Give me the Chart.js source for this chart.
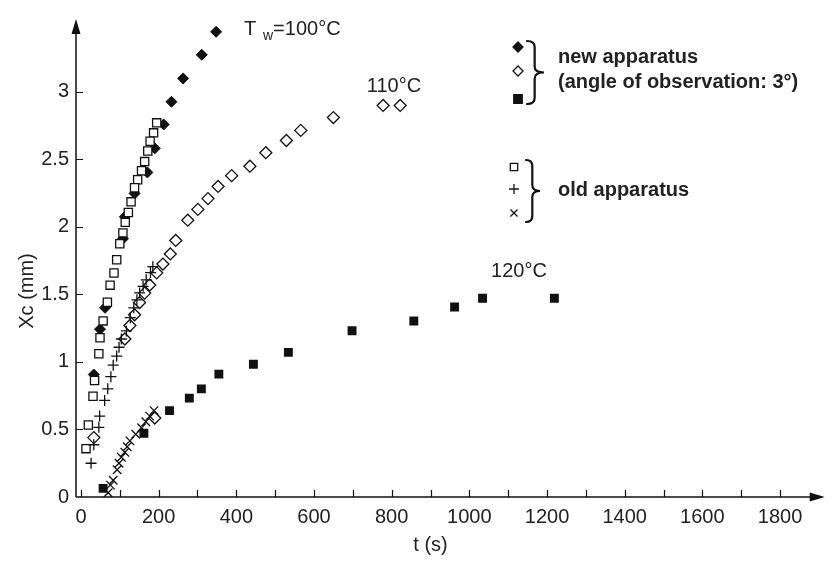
<!DOCTYPE html>
<html>
<head>
<meta charset="utf-8">
<script src="https://cdn.jsdelivr.net/npm/chart.js@4.4.1/dist/chart.umd.min.js"></script>
<style>
html,body{margin:0;padding:0;background:#fff;}
canvas{display:block;}
</style>
</head>
<body>
<canvas id="c" width="832" height="561"></canvas>
<script>
// ---- data (t in s, Xc in mm) ----
const newT100 = [348,311,263,233,213,190,171,138,113,108,62,49,33];
const newX100 = [3.445,3.275,3.10,2.927,2.759,2.582,2.404,2.248,2.075,1.912,1.401,1.243,0.907];

const newT110 = [822,778,650,566,529,476,435,388,353,327,301,275,244,230,211,195,177,164,151,138,126,113,33,190];
const newX110 = [2.90,2.90,2.81,2.715,2.64,2.55,2.45,2.38,2.30,2.21,2.13,2.05,1.90,1.80,1.725,1.66,1.57,1.51,1.44,1.35,1.27,1.17,0.44,0.585];

const newT120 = [57,162,228,279,310,355,444,534,698,857,962,1034,1219];
const newX120 = [0.064,0.472,0.640,0.732,0.801,0.910,0.983,1.071,1.231,1.304,1.407,1.472,1.472];

const oldT100 = [195,187,178,172,164,156,146,138,129,122,114,108,100,92,85,75,68,57,49,46,35,31,19,13];
const oldX100 = [2.771,2.697,2.635,2.562,2.484,2.416,2.350,2.290,2.186,2.107,2.034,1.956,1.876,1.757,1.659,1.569,1.442,1.304,1.179,1.061,0.863,0.746,0.533,0.358];

const oldT110 = [185,179,168,160,151,144,136,127,117,104,98,92,83,77,69,61,48,46,33,26];
const oldX110 = [1.706,1.662,1.608,1.560,1.511,1.460,1.401,1.328,1.230,1.170,1.109,1.044,0.976,0.891,0.801,0.715,0.599,0.516,0.387,0.250];

const oldT120 = [188,177,167,156,141,126,119,113,104,98,93,83,76,70];
const oldX120 = [0.640,0.599,0.557,0.513,0.465,0.416,0.372,0.331,0.294,0.250,0.202,0.124,0.088,0.031];

const xTickValues = [0,200,400,600,800,1000,1200,1400,1600,1800];
const xTickLabels = ['0','200','400','600','800','1000','1200','1400','1600','1800'];
const xMinorTicks = [0,100,200,300,400,500,600,700,800,900,1000,1100,1200,1300,1400,1500,1600,1700,1800];
const yTickValues = [0,0.5,1,1.5,2,2.5,3];
const yTickLabels = ['0','0.5','1','1.5','2','2.5','3'];

const xTitle = 't (s)';
const yTitle = 'Xc (mm)';
const legendNew = ['new apparatus','(angle of observation: 3°)'];
const legendOld = 'old apparatus';

const INK = '#111';
const TXT = '#222';
const FONT = 'Liberation Sans, Arial, Helvetica, sans-serif';

function pts(ts, xs){ return ts.map((t,i)=>({x:t, y:xs[i]})); }

function drawMarker(ctx, style, x, y, r, fill){
  ctx.save();
  ctx.strokeStyle = INK; ctx.fillStyle = fill; ctx.lineWidth = 1.3;
  ctx.beginPath();
  if (style==='rectRot'){
    ctx.moveTo(x, y-r); ctx.lineTo(x+r, y); ctx.lineTo(x, y+r); ctx.lineTo(x-r, y); ctx.closePath();
    ctx.fill(); ctx.stroke();
  } else if (style==='rect'){
    const h = r*Math.SQRT1_2;
    ctx.rect(x-h, y-h, 2*h, 2*h); ctx.fill(); ctx.stroke();
  } else if (style==='cross'){
    ctx.moveTo(x-r, y); ctx.lineTo(x+r, y); ctx.moveTo(x, y-r); ctx.lineTo(x, y+r); ctx.stroke();
  } else if (style==='crossRot'){
    const h = r*Math.SQRT1_2;
    ctx.moveTo(x-h, y-h); ctx.lineTo(x+h, y+h); ctx.moveTo(x+h, y-h); ctx.lineTo(x-h, y+h); ctx.stroke();
  }
  ctx.restore();
}

function drawBrace(ctx, x, y1, y2, w){
  const ym = (y1+y2)/2, r = 6;
  const xm = x + w*0.45;
  ctx.save();
  ctx.strokeStyle = INK; ctx.lineWidth = 2.2; ctx.lineCap='round';
  ctx.beginPath();
  ctx.moveTo(x, y1);
  ctx.quadraticCurveTo(xm, y1, xm, y1+r);
  ctx.lineTo(xm, ym-r);
  ctx.quadraticCurveTo(xm, ym, x+w, ym);
  ctx.quadraticCurveTo(xm, ym, xm, ym+r);
  ctx.lineTo(xm, y2-r);
  ctx.quadraticCurveTo(xm, y2, x, y2);
  ctx.stroke();
  ctx.restore();
}

const decorPlugin = {
  id: 'decor',
  beforeDatasetsDraw(chart){
    const {ctx, scales:{x, y}} = chart;
    const L = x.left, B = y.bottom, R = x.right, T = y.top;
    ctx.save();
    ctx.strokeStyle = INK; ctx.fillStyle = INK; ctx.lineWidth = 1.5;
    ctx.beginPath();
    ctx.moveTo(L, B); ctx.lineTo(R-8, B);
    ctx.moveTo(L, B); ctx.lineTo(L, T+8);
    ctx.stroke();
    ctx.beginPath(); ctx.moveTo(R, B); ctx.lineTo(R-15, B-4.5); ctx.lineTo(R-15, B+4.5); ctx.closePath(); ctx.fill();
    ctx.beginPath(); ctx.moveTo(L, T); ctx.lineTo(L-4.5, T+15); ctx.lineTo(L+4.5, T+15); ctx.closePath(); ctx.fill();
    ctx.lineWidth = 1.2;
    ctx.beginPath();
    xMinorTicks.forEach(v=>{ const p = Math.round(x.getPixelForValue(v))+0.5; ctx.moveTo(p, B); ctx.lineTo(p, B-7); });
    yTickValues.forEach(v=>{ if (v===0) return; const p = Math.round(y.getPixelForValue(v))+0.5; ctx.moveTo(L, p); ctx.lineTo(L+7, p); });
    ctx.stroke();
    ctx.restore();
  },
  afterDraw(chart){
    const {ctx, scales:{x, y}} = chart;
    ctx.save();
    ctx.fillStyle = TXT;
    ctx.textBaseline = 'middle';
    ctx.font = '20px ' + FONT;
    ctx.textAlign = 'center';
    ctx.fillText(xTitle, (x.getPixelForValue(0)+x.getPixelForValue(1800))/2, 545);
    ctx.save();
    ctx.translate(27, 291); ctx.rotate(-Math.PI/2);
    ctx.fillText(yTitle, 0, 0);
    ctx.restore();
    ctx.textAlign = 'left';
    ctx.textBaseline = 'alphabetic';
    let px = x.getPixelForValue(420), py = y.getPixelForValue(3.42);
    ctx.fillText('T', px, py);
    ctx.font = '14px ' + FONT;
    ctx.fillText('w', px+19, py+5);
    ctx.font = '20px ' + FONT;
    ctx.fillText('=100°C', px+29, py);
    ctx.textBaseline = 'middle';
    ctx.fillText('110°C', x.getPixelForValue(736), y.getPixelForValue(3.04));
    ctx.fillText('120°C', x.getPixelForValue(1056), y.getPixelForValue(1.67));
    drawMarker(ctx, 'rectRot', 518, 47, 5, INK);
    drawMarker(ctx, 'rectRot', 518, 71, 5, '#fff');
    drawMarker(ctx, 'rect', 518, 99, 6, INK);
    drawBrace(ctx, 527, 41, 104, 17);
    drawMarker(ctx, 'rect', 514, 167, 5.2, '#fff');
    drawMarker(ctx, 'cross', 514, 189, 5, INK);
    drawMarker(ctx, 'crossRot', 514, 213, 5, INK);
    drawBrace(ctx, 526, 160, 222, 14);
    ctx.font = 'bold 20px ' + FONT;
    ctx.fillStyle = TXT;
    ctx.fillText(legendNew[0], 558, 57);
    ctx.fillText(legendNew[1], 558, 82);
    ctx.fillText(legendOld, 558, 190);
    ctx.restore();
  }
};

const base = {showLine:false, pointHoverRadius:0};
new Chart(document.getElementById('c'), {
  type: 'scatter',
  data: {
    datasets: [
      Object.assign({label:'100°C new', data:pts(newT100,newX100), pointStyle:'rectRot', pointRadius:5.5, backgroundColor:INK, borderColor:INK, borderWidth:1, order:6}, base),
      Object.assign({label:'100°C old', data:pts(oldT100,oldX100), pointStyle:'rect', pointRadius:5.8, backgroundColor:'#fff', borderColor:INK, borderWidth:1.3, order:5}, base),
      Object.assign({label:'110°C new', data:pts(newT110,newX110), pointStyle:'rectRot', pointRadius:6, backgroundColor:'#fff', borderColor:INK, borderWidth:1.3, order:4}, base),
      Object.assign({label:'110°C old', data:pts(oldT110,oldX110), pointStyle:'cross', pointRadius:5.5, backgroundColor:INK, borderColor:INK, borderWidth:1.3, order:3}, base),
      Object.assign({label:'120°C new', data:pts(newT120,newX120), pointStyle:'rect', pointRadius:6.3, backgroundColor:INK, borderColor:INK, borderWidth:0, order:2}, base),
      Object.assign({label:'120°C old', data:pts(oldT120,oldX120), pointStyle:'crossRot', pointRadius:6, backgroundColor:INK, borderColor:INK, borderWidth:1.3, order:1}, base)
    ]
  },
  options: {
    responsive:false, animation:false, devicePixelRatio:1,
    layout:{padding:{top:12, right:4, left:0, bottom:0}},
    plugins:{legend:{display:false}, tooltip:{enabled:false}},
    events:[],
    scales:{
      x:{
        type:'linear', min:-12.8, max:1915,
        grid:{display:false, drawTicks:false}, border:{display:false},
        afterBuildTicks: s => { s.ticks = xTickValues.map(v=>({value:v})); },
        ticks:{color:TXT, font:{family:FONT, size:20}, padding:8, maxRotation:0, autoSkip:false,
               callback:(v,i)=>xTickLabels[i]},
        afterFit: s => { s.height = 64; }
      },
      y:{
        type:'linear', min:0, max:3.54,
        grid:{display:false, drawTicks:false}, border:{display:false},
        afterBuildTicks: s => { s.ticks = yTickValues.map(v=>({value:v})); },
        ticks:{color:TXT, font:{family:FONT, size:20}, padding:7, autoSkip:false,
               callback:(v,i)=>yTickLabels[i]},
        afterFit: s => { s.width = 76; }
      }
    }
  },
  plugins:[decorPlugin]
});
</script>
</body>
</html>
